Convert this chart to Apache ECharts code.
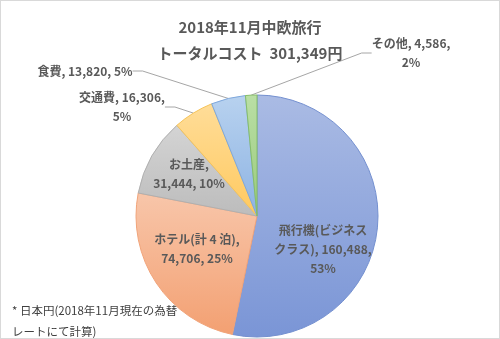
<!DOCTYPE html>
<html><head><meta charset="utf-8">
<script src="https://cdn.jsdelivr.net/npm/echarts@6/dist/echarts.min.js"></script>
<style>
html,body{margin:0;padding:0;background:#fff;}
#c{width:500px;height:339px;box-sizing:border-box;border:1px solid #d9d9d9;}
</style></head>
<body><div id="c"></div>
<script>
const titleLines = ['2018年11月中欧旅行', 'トータルコスト  301,349円'];
const noteLines = ['* 日本円(2018年11月現在の為替', 'レートにて計算)'];
const categories = ['飛行機(ビジネスクラス)', 'ホテル(計 4 泊)', 'お土産', '交通費', '食費', 'その他'];
const values = [160488, 74706, 31444, 16306, 13820, 4586];

const total = values.reduce((a, b) => a + b, 0);
const fmt = v => v.toLocaleString('en-US');
const pct = v => Math.round(v / total * 100) + '%';

function labelText(i) {
  const n = categories[i], v = fmt(values[i]), p = pct(values[i]);
  switch (i) {
    case 0: return '飛行機(ビジネス\nクラス), ' + v + ',\n' + p;
    case 1: return n + ',\n' + v + ', ' + p;
    case 2: return n + ',\n' + v + ', ' + p;
    case 3: return n + ', ' + v + ',\n' + p;
    case 4: return n + ', ' + v + ', ' + p;
    default: return n + ', ' + v + ',\n' + p;
  }
}

const fills = [
  ['#aabbe4', '#7a95d6', '#7490d0'],
  ['#f8c6aa', '#f3a072', '#f1a47a'],
  ['#d4d4d4', '#bcbcbc', '#b0b0b0'],
  ['#ffdd99', '#ffc95f', '#f6c45a'],
  ['#b8d2ef', '#8db3e3', '#7fa8dc'],
  ['#badfa5', '#99ca7c', '#86be68']
];
const labelPos = [
  [322, 248], [196, 248], [188, 173], [121, 106], [84, 70], [410, 52]
];
const outside = [false, false, false, true, true, true];

const chart = echarts.init(document.getElementById('c'));
chart.setOption({
  animation: false,
  backgroundColor: '#fff',
  title: [{
    text: titleLines.join('\n'),
    left: 'center', top: 8,
    textStyle: { fontFamily: 'Noto Sans CJK JP', fontSize: 15, fontWeight: 'bold', color: '#595959', lineHeight: 26 }
  }, {
    text: noteLines.join('\n'),
    left: 6, top: 294,
    textStyle: { fontFamily: 'Noto Sans CJK JP', fontSize: 11.5, fontWeight: 'normal', color: '#404040', lineHeight: 21 }
  }],
  series: [{
    type: 'pie',
    center: [256, 215],
    radius: 121,
    startAngle: 90,
    clockwise: true,
    avoidLabelOverlap: false,
    data: values.map((v, i) => ({
      name: categories[i],
      value: v,
      itemStyle: {
        color: new echarts.graphic.LinearGradient(0, 0, 0, 1, [
          { offset: 0, color: fills[i][0] }, { offset: 1, color: fills[i][1] }
        ]),
        borderColor: fills[i][2],
        borderWidth: 1
      },
      label: { position: outside[i] ? 'outside' : 'inside' },
      labelLine: { show: outside[i] }
    })),
    label: {
      formatter: p => labelText(p.dataIndex),
      fontFamily: 'Noto Sans CJK JP',
      fontSize: 12,
      fontWeight: 'bold',
      color: '#595959',
      lineHeight: 19,
      align: 'center'
    },
    labelLine: {
      lineStyle: { color: '#a6a6a6', width: 1 },
      length: 10, length2: 10
    },
    labelLayout: function (params) {
      const p = labelPos[params.dataIndex];
      return { x: p[0], y: p[1], align: 'center', verticalAlign: 'middle' };
    }
  }]
});
</script></body></html>
